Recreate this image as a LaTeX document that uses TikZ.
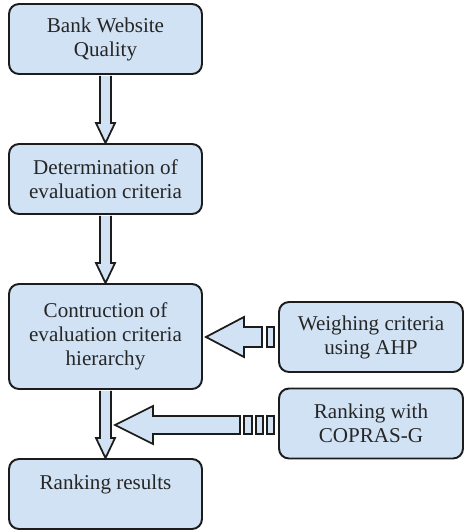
\documentclass[tikz,border=0pt]{standalone}
\usepackage{fontspec}
\setmainfont{Liberation Serif}
\usetikzlibrary{calc,positioning}
\definecolor{boxfill}{RGB}{208,226,244}
\definecolor{boxline}{RGB}{28,28,28}

% hollow block arrow pointing down, from the south of #1 to the north of #2
\newcommand{\fatdown}[2]{%
  \draw[fatarrow] ($(#1.south)+(-5.5,1)$) -- ($(#2.north)+(-5.5,-20)$) -- ++(-4,0)
    -- (#2.north) -- ++(9.5,-20) -- ++(-4,0) -- ($(#1.south)+(5.5,1)$);}

\begin{document}
\begin{tikzpicture}[x=0.02cm,y=-0.02cm,font=\fontsize{12}{13.7}\selectfont,
    box/.style={draw=boxline,fill=boxfill,line width=1.1pt,rounded corners=0.2cm,
      minimum width=3.86cm,minimum height=1.4cm,align=center,inner sep=0pt,text=black!85},
    sidebox/.style={box,minimum width=3.68cm},
    fatarrow/.style={draw=boxline,fill=boxfill,line width=1pt,line join=miter}]
    \useasboundingbox (0,0) rectangle (464,531);
    % main column
    \node[box] (quality) at (105.5,39) {Bank Website\\Quality};
    \node[box] (criteria) at (105.5,179) {Determination of\\evaluation criteria};
    \node[box,minimum height=2.1cm] (hierarchy) at (105.5,336.5) {Contruction of\\evaluation criteria\\hierarchy};
    \node[box] (results) at (105.5,494) {Ranking results\\\mbox{}};
    % methods
    \node[sidebox] (ahp) at (371,337) {Weighing criteria\\using AHP};
    \node[sidebox] (copras) at (371,423.5) {Ranking with\\COPRAS-G};
    % down arrows
    \fatdown{quality}{criteria}
    \fatdown{criteria}{hierarchy}
    \fatdown{hierarchy}{results}
    % AHP arrow
    \coordinate (ahptip) at ($(hierarchy.east |- ahp.west)+(3,0)$);
    \draw[fatarrow] ($(ahp.west)+(-16,-10)$) -- ($(ahptip)+(38,-10)$) -- ++(0,-10)
      -- (ahptip) -- ++(38,20) -- ++(0,-10) -- ($(ahp.west)+(-16,10)$) -- cycle;
    \draw[fatarrow] ($(ahp.west)+(-11,-10)$) rectangle ($(ahp.west)+(-4,10)$);
    % COPRAS-G arrow
    \coordinate (join) at ($(hierarchy.south |- copras.west)+(9.5,1.5)$);
    \draw[fatarrow] ($(copras.west)+(-38,-7.5)$) -- ($(join)+(38,-9)$) -- ++(0,-10)
      -- (join) -- ++(38,19) -- ++(0,-10) -- ($(copras.west)+(-38,10.5)$) -- cycle;
    \foreach \a/\b in {-34/-26,-22/-15,-11/-4}
      \draw[fatarrow] ($(copras.west)+(\a,-7.5)$) rectangle ($(copras.west)+(\b,10.5)$);
\end{tikzpicture}
\end{document}
